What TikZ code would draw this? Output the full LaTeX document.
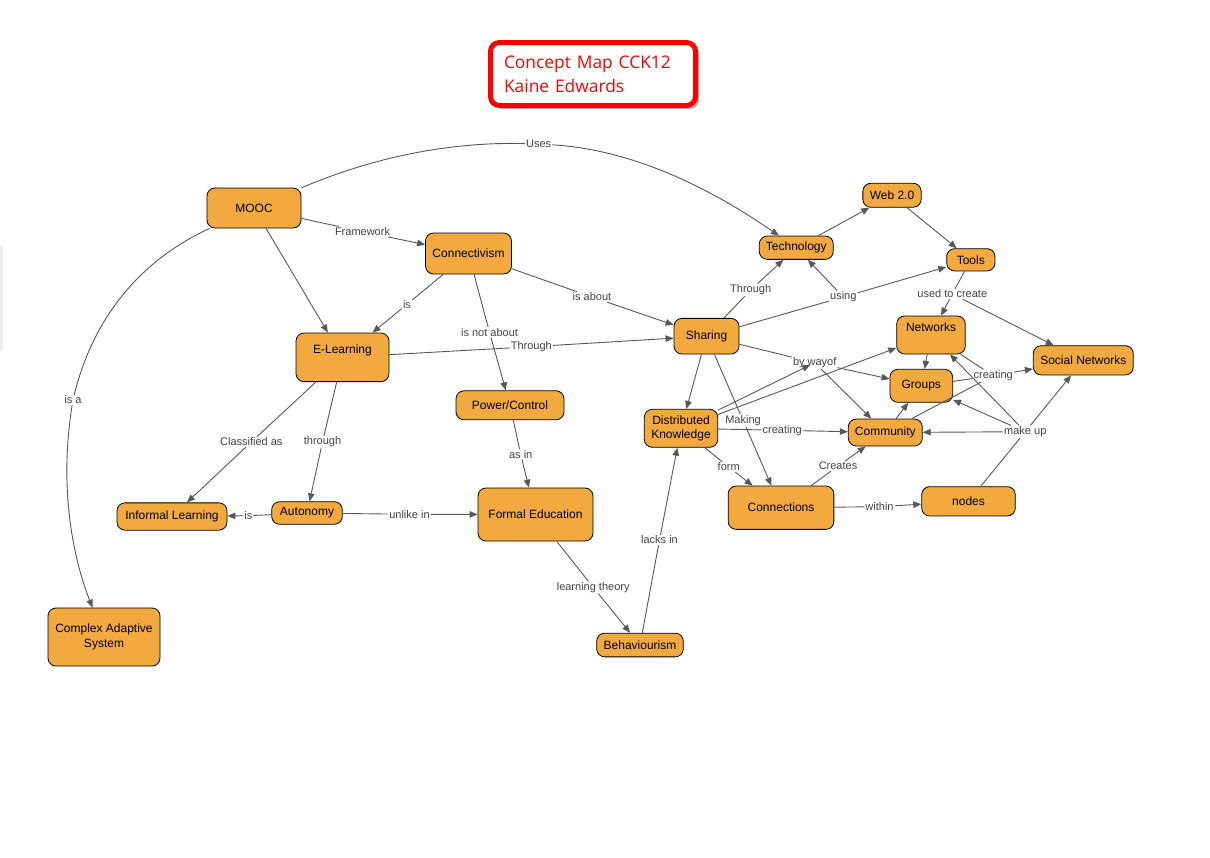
\documentclass[tikz,border=0pt]{standalone}
\usepackage{fontspec}
\setmainfont{Liberation Sans}
\newfontfamily\titlefont{Open Sans}
\usetikzlibrary{arrows.meta,shadows}
\definecolor{conceptfill}{RGB}{241,169,64}
\definecolor{linkgray}{RGB}{88,88,88}
\definecolor{labelgray}{RGB}{68,68,68}
\tikzset{->,>={Triangle[length=8pt,width=6.5pt]},
link/.style={draw=linkgray,line width=0.9pt},
every edge/.style={link},
concept/.style={draw=black,line width=0.8pt,fill=conceptfill,rounded corners=8pt,
  inner sep=2pt,align=center,font=\fontsize{12}{14.5}\selectfont},
raised/.style={text height=9pt,text depth=15.7pt},
lp/.style={fill=white,inner sep=1pt,text=labelgray,font=\fontsize{11}{13}\selectfont},
titlebox/.style={draw=red,line width=5pt,rounded corners=9pt,fill=white,
  text=red,font=\titlefont\fontsize{17.4}{24}\selectfont,align=left,
  text width=178pt,inner xsep=13.5pt,minimum height=63pt,
  drop shadow={shadow xshift=3.5pt,shadow yshift=-3.5pt,fill=black!60}},
}

\begin{document}
\begin{tikzpicture}[x=1pt,y=-1pt]
\useasboundingbox (0,0) rectangle (1210,857);
\fill[black!7] (0,246) rectangle (3,350);
\node[titlebox] (title) at (593,74) {Concept Map CCK12\\Kaine Edwards};

% concepts
\node[concept,minimum width=94pt,minimum height=40pt] (mooc) at (254,208) {MOOC};
\node[concept,minimum width=86pt,minimum height=41pt] (conn) at (468.5,253.5) {Connectivism};
\node[concept,raised,minimum width=93pt,minimum height=48.6pt] (elearn) at (342.5,357.3) {E-Learning};
\node[concept,minimum width=108pt,minimum height=29pt] (power) at (510,405.3) {Power/Control};
\node[concept,minimum width=110pt,minimum height=27.3pt] (informal) at (172,516.5) {Informal Learning};
\node[concept,minimum width=70.6pt,minimum height=22.6pt] (autonomy) at (307,513) {Autonomy};
\node[concept,minimum width=115pt,minimum height=53pt] (formal) at (535.5,514.5) {Formal Education};
\node[concept,minimum width=112pt,minimum height=58pt] (cas) at (104,637) {Complex Adaptive\\System};
\node[concept,minimum width=86.6pt,minimum height=23.7pt] (behav) at (640,645) {Behaviourism};
\node[concept,minimum width=58.3pt,minimum height=24pt] (web) at (892,195.3) {Web 2.0};
\node[concept,minimum width=74pt,minimum height=23.3pt] (tech) at (796.3,247.7) {Technology};
\node[concept,minimum width=48.3pt,minimum height=22.3pt] (tools) at (970.8,259.8) {Tools};
\node[concept,minimum width=65pt,minimum height=35.7pt] (sharing) at (706.5,336.2) {Sharing};
\node[concept,raised,minimum width=68.6pt,minimum height=38pt] (networks) at (931,335) {Networks};
\node[concept,minimum width=73.4pt,minimum height=38pt] (dk) at (681,428.3) {Distributed\\Knowledge};
\node[concept,minimum width=62.7pt,minimum height=33pt] (groups) at (921.3,385.8) {Groups};
\node[concept,minimum width=74pt,minimum height=27pt] (community) at (885.3,432.5) {Community};
\node[concept,minimum width=105.7pt,minimum height=43.3pt] (connections) at (781,507.7) {Connections};
\node[concept,minimum width=93.6pt,minimum height=29.3pt] (nds) at (968.5,501.3) {nodes};
\node[concept,minimum width=100pt,minimum height=29.3pt] (socnet) at (1083.3,360.3) {Social Networks};

% linking phrases
\node[lp] (uses) at (538.7,144) {Uses};
\node[lp] (framework) at (362.5,231.7) {Framework};
\node[lp] (isa) at (73,400) {is a};
\node[lp] (isconn) at (407,304.3) {is};
\node[lp] (isnot) at (489.5,332.3) {is not about};
\node[lp] (isabout) at (592,297) {is about};
\node[lp] (throughel) at (531.3,346.7) {Through};
\node[lp] (classified) at (251.3,442) {Classified as};
\node[lp] (throughau) at (322.5,442) {through};
\node[lp] (isauto) at (248.3,515.7) {is};
\node[lp] (unlike) at (409.5,514.3) {unlike in};
\node[lp] (asin) at (520.7,454.3) {as in};
\node[lp] (theory) at (593.2,587.3) {learning theory};
\node[lp] (lacks) at (659.5,540) {lacks in};
\node[lp] (throughsh) at (750.7,290) {Through};
\node[lp] (using) at (843.3,297) {using};
\node[lp] (usedto) at (952.3,294) {used to create};
\node[lp] (byway) at (814.7,362.7) {by wayof};
\node[lp] (making) at (743,420.3) {Making};
\node[lp] (creatingdk) at (782.2,430.3) {creating};
\node[lp] (creatingnw) at (993.2,375.7) {creating};
\node[lp] (makeup) at (1025.3,431.7) {make up};
\node[lp] (form) at (728.7,467) {form};
\node[lp] (creates) at (838,466) {Creates};
\node[lp] (within) at (879.5,506.7) {within};

\draw[link,-] (mooc) .. controls (130,265) and (90,330) .. (isa);
\draw[link] (isa) .. controls (60,480) and (70,550) .. (cas);
\draw[link,-] (mooc) .. controls (390,150) and (470,142) .. (uses);
\draw[link] (uses) .. controls (640,150) and (720,195) .. (tech);

\path
(mooc) edge[-] (framework) (framework) edge (conn)
(mooc) edge (elearn)
(conn) edge[-] (isconn) (isconn) edge (elearn)
(conn) edge[-] (isnot) (isnot) edge (power)
(conn) edge[-] (isabout) (isabout) edge (sharing)
(elearn) edge[-] (throughel) (throughel) edge (sharing)
(elearn) edge[-] (classified) (classified) edge (informal)
(elearn) edge[-] (throughau) (throughau) edge (autonomy)
(autonomy) edge[-] (isauto) (isauto) edge (informal)
(autonomy) edge[-] (unlike) (unlike) edge (formal)
(power) edge[-] (asin) (asin) edge (formal)
(formal) edge[-] (theory) (theory) edge (behav)
(behav) edge[-] (lacks) (lacks) edge (dk)
(sharing) edge[-] (throughsh) (throughsh) edge (tech)
(sharing) edge[-] (using) (using) edge (tools) (using) edge (tech)
(tech) edge (web)
(web) edge (tools)
(tools) edge[-] (usedto) (usedto) edge (networks) (usedto) edge (socnet)
(sharing) edge[-] (byway) (byway) edge (groups) (byway) edge (community)
(sharing) edge (dk)
(sharing) edge[-] (making) (making) edge (connections)
(dk) edge[-] (creatingdk) (creatingdk) edge (community)
(dk) edge[-] (form) (form) edge (connections)
(dk) edge (networks)
(dk) edge[shorten >=5pt] (byway.center)
(networks) edge (groups)
(community) edge (groups)
(groups) edge[-] (creatingnw) (community) edge[-] (creatingnw)
(networks) edge[-] (creatingnw) (creatingnw) edge (socnet)
(nds) edge[-] (makeup)
(makeup) edge (community) (makeup) edge (groups)
(makeup) edge (networks) (makeup) edge (socnet)
(connections) edge[-] (creates) (creates) edge (community)
(connections) edge[-] (within) (within) edge (nds)
;
\end{tikzpicture}
\end{document}
